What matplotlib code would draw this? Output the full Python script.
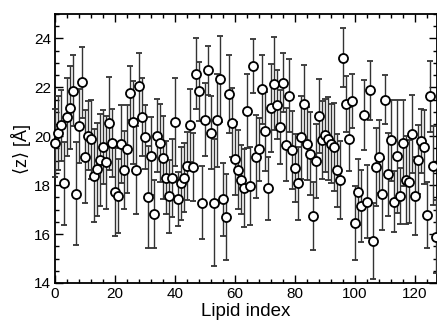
import matplotlib

matplotlib.use("Agg")
import matplotlib.pyplot as plt
from matplotlib.ticker import MultipleLocator

plt.rcParams["font.family"] = ["Liberation Sans", "DejaVu Sans"]

# mean z position of each lipid and its error bar half-length
lipid_index = list(range(128))
z_mean = [
    19.73, 20.13, 20.45, 18.08, 20.79, 21.16, 21.87, 17.65, 20.42, 22.20,
    19.17, 20.03, 19.87, 18.38, 18.65, 19.03, 19.56, 18.93, 20.54, 19.73,
    17.73, 17.56, 19.67, 18.61, 19.46, 21.78, 20.57, 18.61, 22.05, 20.79,
    19.97, 17.52, 19.20, 16.82, 20.03, 19.73, 19.13, 18.31, 17.55, 18.30,
    20.58, 17.42, 18.07, 18.31, 18.79, 20.45, 18.75, 22.56, 21.84, 17.28,
    20.68, 22.69, 20.15, 17.28, 20.65, 22.35, 17.42, 16.71, 21.74, 20.56,
    19.09, 18.64, 18.23, 17.87, 21.03, 17.97, 22.87, 19.16, 19.46, 21.92,
    20.20, 17.87, 21.17, 22.15, 21.29, 20.38, 22.19, 19.66, 21.66, 19.43,
    18.71, 18.07, 19.95, 21.31, 19.70, 19.29, 16.75, 18.99, 20.83, 19.84,
    20.04, 19.90, 19.70, 19.56, 18.61, 18.20, 23.21, 21.31, 19.88, 21.44,
    16.46, 17.73, 17.16, 20.86, 17.32, 21.88, 15.73, 18.75, 19.16, 17.62,
    21.50, 18.44, 19.84, 17.32, 19.18, 17.56, 19.73, 18.20, 18.14, 20.08,
    17.56, 19.05, 19.80, 19.56, 16.78, 21.63, 18.80, 15.89,
]
z_err = [
    1.40, 1.50, 1.45, 1.70, 1.60, 1.70, 1.45, 2.10, 1.50, 1.45,
    1.90, 1.40, 1.60, 1.90, 1.90, 1.90, 1.50, 1.90, 1.90, 1.40,
    1.80, 1.50, 1.60, 1.60, 1.80, 1.10, 1.70, 1.80, 1.35, 1.60,
    1.30, 2.10, 1.60, 1.40, 1.50, 1.60, 1.70, 1.50, 1.50, 1.60,
    1.80, 1.10, 1.50, 1.40, 1.40, 1.50, 1.40, 1.45, 1.20, 1.50,
    1.50, 1.00, 1.50, 2.60, 1.90, 1.75, 1.50, 1.75, 1.60, 1.40,
    1.50, 1.60, 1.40, 1.60, 1.50, 1.60, 1.10, 1.70, 1.30, 1.40,
    1.60, 1.30, 1.80, 1.90, 1.40, 1.50, 1.20, 1.50, 1.50, 1.60,
    1.40, 1.50, 1.70, 1.60, 1.50, 1.70, 1.40, 1.50, 1.50, 1.60,
    1.50, 1.70, 1.60, 1.80, 1.50, 1.60, 1.20, 1.15, 1.30, 1.10,
    1.50, 1.36, 1.47, 1.43, 1.50, 1.20, 1.55, 1.60, 1.50, 1.45,
    1.00, 1.70, 1.65, 1.25, 2.30, 1.15, 1.75, 1.80, 1.70, 1.60,
    1.60, 1.40, 1.30, 1.50, 1.35, 1.45, 1.60, 1.50,
]

fig = plt.figure(figsize=(4.37, 3.2), dpi=100)
ax = fig.add_axes([55 / 437, 37 / 320, 381.5 / 437, 269 / 320])

ax.errorbar(
    lipid_index, z_mean, yerr=z_err, fmt="o", color="#333333",
    ecolor="#333333", elinewidth=1.0, capsize=2.5, capthick=1.0,
    markersize=6.5, markerfacecolor="white", markeredgecolor="black",
    markeredgewidth=1.3, clip_on=False, zorder=3,
)

ax.set_xlim(0, 127.2)
ax.set_ylim(14, 25)
ax.xaxis.set_major_locator(MultipleLocator(20))
ax.xaxis.set_minor_locator(MultipleLocator(4))
ax.yaxis.set_major_locator(MultipleLocator(2))
ax.yaxis.set_minor_locator(MultipleLocator(0.5))
ax.tick_params(which="both", direction="in", top=True, right=True,
               labelsize=11, width=1.0, pad=3)
ax.tick_params(which="major", length=6)
ax.tick_params(which="minor", length=3)
for s in ax.spines.values():
    s.set_linewidth(1.3)

ax.set_xlabel("Lipid index", fontsize=13.5, labelpad=1)
ax.set_ylabel("⟨z⟩ [Å]", fontsize=13, labelpad=2)

fig.savefig("out.png", dpi=100)
plt.close(fig)
